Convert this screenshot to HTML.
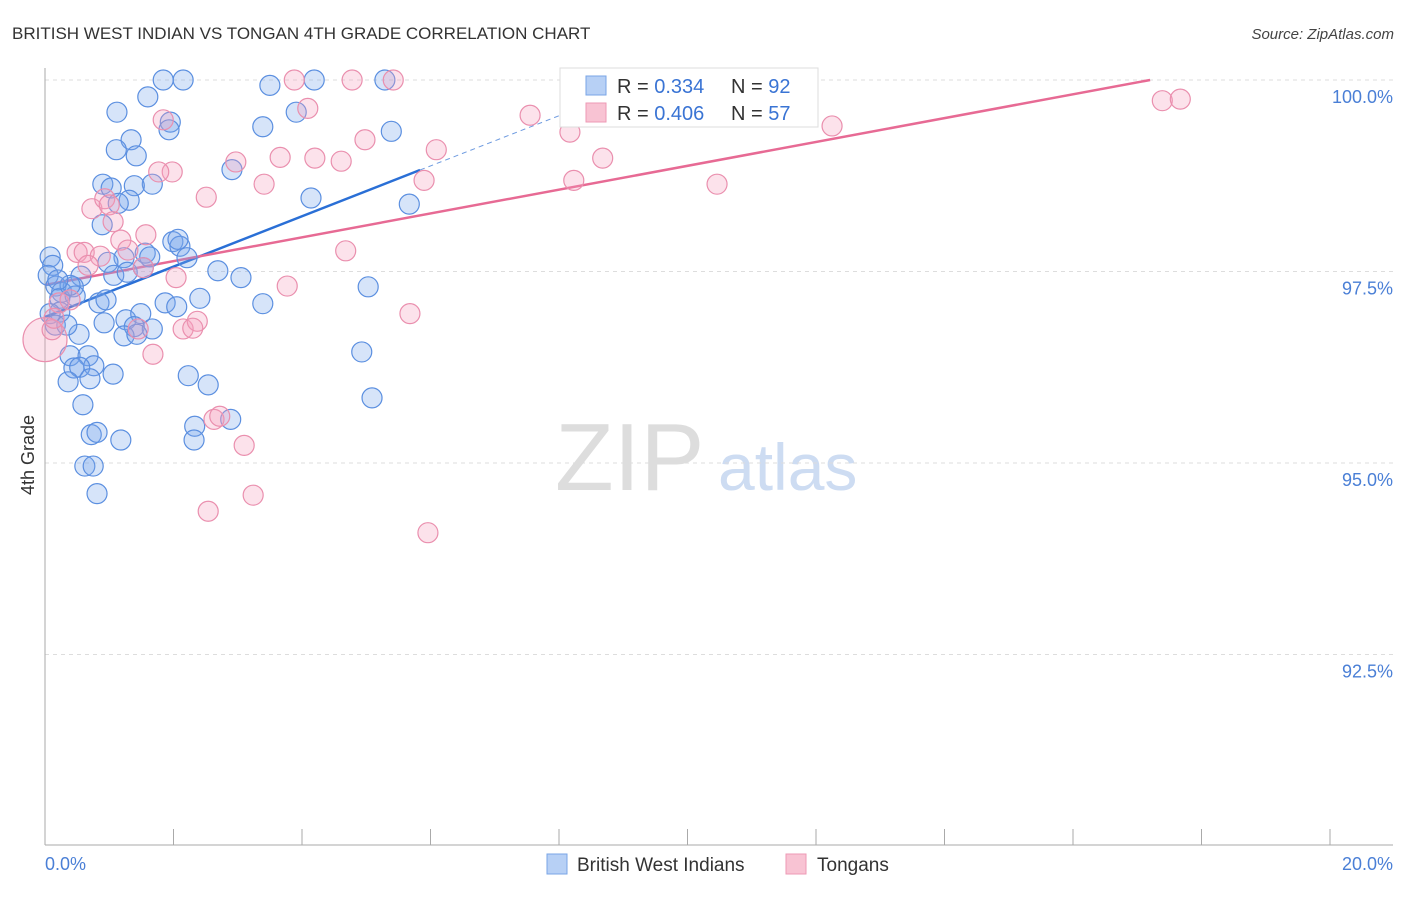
<!DOCTYPE html>
<html><head><meta charset="utf-8"><style>
body{margin:0;background:#fff;font-family:"Liberation Sans",sans-serif}
svg text{font-family:"Liberation Sans",sans-serif}
</style></head><body>
<svg id="chart" width="1406" height="892" viewBox="0 0 1406 892" xmlns="http://www.w3.org/2000/svg">
<text x="12" y="39" font-size="17" fill="#333">BRITISH WEST INDIAN VS TONGAN 4TH GRADE CORRELATION CHART</text>
<text x="1394" y="39" font-size="15" fill="#444" text-anchor="end" font-style="italic">Source: ZipAtlas.com</text>
<g>
<text x="555" y="490" font-size="96" fill="#ddd" font-family="Liberation Serif, serif">ZIP</text>
<text x="718" y="490" font-size="66" fill="#cddcf2">atlas</text>
</g>
<g id="grid"></g>
<g id="axes"></g>
<g id="trend"></g>
<g id="points"></g>
<text transform="translate(34,455) rotate(-90)" font-size="18" fill="#333" text-anchor="middle">4th Grade</text>
<g>
<rect x="560" y="68" width="258" height="59" fill="#fff" stroke="#ddd"/>
<rect x="586" y="76" width="20" height="19" fill="#b7d0f5" stroke="#7aa5e6"/>
<text x="617" y="93" font-size="20" fill="#333">R = <tspan fill="#3a74d4">0.334</tspan></text>
<text x="731" y="93" font-size="20" fill="#333">N = <tspan fill="#3a74d4">92</tspan></text>
<rect x="586" y="103" width="20" height="19" fill="#f8c3d3" stroke="#ee9ab5"/>
<text x="617" y="120" font-size="20" fill="#333">R = <tspan fill="#3a74d4">0.406</tspan></text>
<text x="731" y="120" font-size="20" fill="#333">N = <tspan fill="#3a74d4">57</tspan></text>
</g>
<g>
<rect x="547" y="854" width="20" height="20" fill="#b7d0f5" stroke="#7aa5e6"/>
<text x="577" y="871" font-size="19" fill="#333">British West Indians</text>
<rect x="786" y="854" width="20" height="20" fill="#f8c3d3" stroke="#ee9ab5"/>
<text x="817" y="871" font-size="19" fill="#333">Tongans</text>
</g>
</svg>
<script>
const yTicks=[100,97.5,95,92.5];
const yTickLabels=["100.0%","97.5%","95.0%","92.5%"];
const xTickLabels=["0.0%","20.0%"];
const blueX=[1.84,2.15,3.50,4.19,5.29,1.12,1.60,1.95,1.93,1.34,1.11,1.42,3.39,3.91,5.39,2.91,0.90,1.03,1.67,1.39,1.31,1.14,4.14,5.67,0.89,1.99,2.10,2.07,2.21,1.56,1.63,1.23,0.98,0.08,0.12,0.05,0.56,1.07,1.28,1.53,2.69,3.05,5.03,0.17,0.44,0.26,0.23,0.47,0.84,0.95,1.87,2.05,2.41,3.39,0.23,0.08,1.26,1.49,0.92,1.39,1.67,0.16,0.53,1.23,1.43,4.93,0.39,0.67,0.76,0.45,0.54,1.06,0.70,0.36,2.23,2.54,0.59,5.09,0.72,0.81,1.18,2.33,2.32,2.89,0.62,0.75,0.81,0.34,0.39,0.20];
const blueY=[100,100,99.93,100,100,99.58,99.78,99.45,99.35,99.22,99.09,99.01,99.39,99.58,99.33,98.83,98.64,98.59,98.64,98.62,98.43,98.39,98.46,98.38,98.11,97.89,97.83,97.92,97.68,97.74,97.69,97.68,97.62,97.69,97.58,97.45,97.44,97.45,97.49,97.55,97.51,97.42,97.30,97.31,97.30,97.23,97.15,97.18,97.09,97.13,97.09,97.04,97.15,97.08,96.97,96.95,96.87,96.95,96.83,96.78,96.75,96.80,96.68,96.66,96.68,96.45,96.40,96.40,96.27,96.24,96.25,96.16,96.10,96.06,96.14,96.02,95.76,95.85,95.37,95.40,95.30,95.48,95.30,95.57,94.96,94.96,94.60,96.80,97.32,97.39];
const pinkX=[1.84,1.98,1.77,2.51,2.97,3.66,4.20,4.61,4.98,3.88,4.78,5.42,4.09,7.55,8.17,8.68,8.23,10.46,12.25,17.39,17.67,6.09,5.90,3.41,0.73,0.93,1.00,1.06,1.18,1.29,1.57,1.53,0.50,0.61,0.86,0.67,0.22,0.39,2.04,4.68,3.77,5.68,2.15,2.37,2.30,1.68,2.63,2.72,3.10,3.24,2.54,5.96,0,0.11,0.14,1.45];
const pinkY=[99.48,98.80,98.80,98.47,98.93,98.99,98.98,98.94,99.22,100,100,100,99.63,99.54,99.32,98.98,98.69,98.64,99.40,99.73,99.75,99.09,98.69,98.64,98.32,98.45,98.37,98.15,97.91,97.78,97.98,97.55,97.75,97.75,97.70,97.58,97.09,97.13,97.42,97.77,97.31,96.95,96.75,96.85,96.76,96.42,95.57,95.61,95.23,94.58,94.37,94.09,96.61,96.74,96.89,96.75];
const blueTrend=[[0,96.906],[5.837,98.825]];
const blueTrendDash=[[5.837,98.825],[8.6,99.73]];
const pinkTrend=[[0,97.324],[17.2,100]];
const X=v=>45+v/20*1285;
const Y=v=>80+(100-v)/2.5*191.5;
const NS="http://www.w3.org/2000/svg";
function mk(tag,attrs,parent){const e=document.createElementNS(NS,tag);for(const k in attrs)e.setAttribute(k,attrs[k]);parent.appendChild(e);return e;}
const grid=document.getElementById('grid'),axes=document.getElementById('axes'),trend=document.getElementById('trend'),pts=document.getElementById('points');
yTicks.forEach((t,i)=>{
 const l=mk('line',{x1:45,x2:1393,y1:Y(t),y2:Y(t),stroke:'#ddd','stroke-dasharray':'4,4'},grid);
 
 
 const tx=mk('text',{x:1393,y:Y(t)+23,'font-size':18,fill:'#4a7fd6','text-anchor':'end'},axes);
 tx.textContent=yTickLabels[i];
 
 
});
mk('line',{x1:45,x2:45,y1:68,y2:845,stroke:'#aaa'},axes);
mk('line',{x1:45,x2:1393,y1:845,y2:845,stroke:'#aaa'},axes);
for(let i=0;i<=10;i++){const l=mk('line',{x1:X(i*2),x2:X(i*2),y1:829,y2:845,stroke:'#aaa'},axes);}
const xl0=mk('text',{x:45,y:870,'font-size':18,fill:'#4a7fd6'},axes);xl0.textContent=xTickLabels[0];


const xl1=mk('text',{x:1393,y:870,'font-size':18,fill:'#4a7fd6','text-anchor':'end'},axes);xl1.textContent=xTickLabels[1];


function drawPts(xs,ys,fill,stroke,name){xs.forEach((x,i)=>{const r=(x===0)?22:10;const c=mk('circle',{cx:X(x),cy:Y(ys[i]),r:r,fill:fill,stroke:stroke,'stroke-width':1.2},pts);});}
drawPts(blueX,blueY,'rgba(120,165,235,0.3)','#5b8fe0','point-british-west-indian');
drawPts(pinkX,pinkY,'rgba(245,160,190,0.3)','#ea8fae','point-tongan');
const bt=mk('line',{x1:X(blueTrend[0][0]),y1:Y(blueTrend[0][1]),x2:X(blueTrend[1][0]),y2:Y(blueTrend[1][1]),stroke:'#2a6fd6','stroke-width':2.5},trend);


const bd=mk('line',{x1:X(blueTrendDash[0][0]),y1:Y(blueTrendDash[0][1]),x2:X(blueTrendDash[1][0]),y2:Y(blueTrendDash[1][1]),stroke:'#6e9be0','stroke-width':1,'stroke-dasharray':'5,4'},trend);


const pt=mk('line',{x1:X(pinkTrend[0][0]),y1:Y(pinkTrend[0][1]),x2:X(pinkTrend[1][0]),y2:Y(pinkTrend[1][1]),stroke:'#e76a94','stroke-width':2.5},trend);


</script>
</body></html>
